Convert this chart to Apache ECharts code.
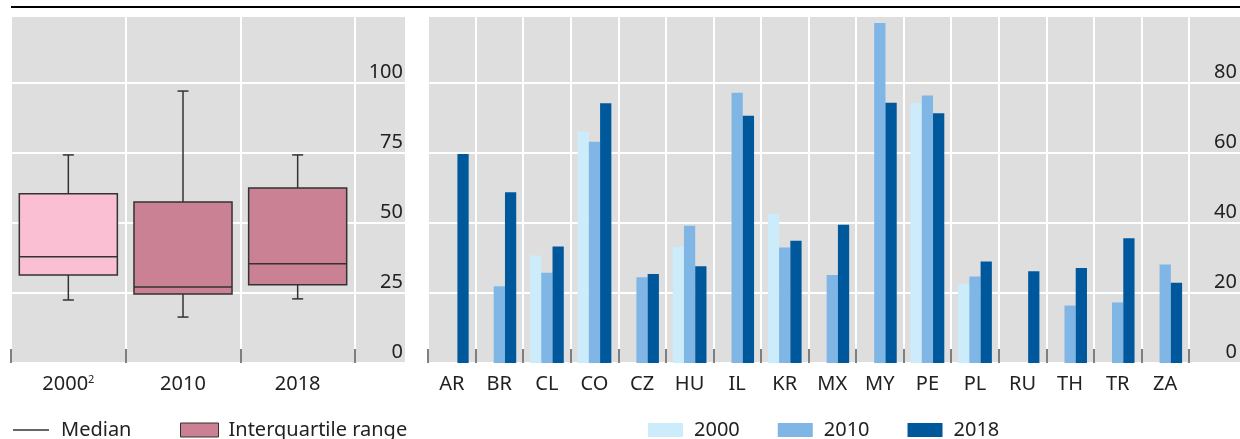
<!DOCTYPE html>
<html>
<head>
<meta charset="utf-8">
<script src="https://cdn.jsdelivr.net/npm/echarts@6/dist/echarts.min.js"></script>
<style>html,body{margin:0;padding:0;background:#fff}#c{width:1240px;height:439px}</style>
</head>
<body>
<div id="c"></div>
<script>
// ---- Data ----
const boxCategories = ['2000', '2010', '2018'];
const boxMin    = [22.5, 16.4, 22.9];
const boxQ1     = [31.4, 24.6, 27.9];
const boxMedian = [37.9, 27.1, 35.4];
const boxQ3     = [60.4, 57.5, 62.5];
const boxMax    = [74.3, 97.1, 74.3];
const leftTickStep = 25;

const countries = ['AR','BR','CL','CO','CZ','HU','IL','KR','MX','MY','PE','PL','RU','TH','TR','ZA'];
const v2000 = [null, null, 30.7, 66.1, null, 33.2, null, 42.6, null, null, 74.3, 22.6, null, null, null, null];
const v2010 = [null, 21.9, 25.8, 63.2, 24.5, 39.2, 77.2, 33.0, 25.1, 97.1, 76.4, 24.7, null, 16.4, 17.3, 28.1];
const v2018 = [59.7, 48.8, 33.3, 74.2, 25.4, 27.6, 70.6, 34.9, 39.5, 74.3, 71.3, 29.0, 26.2, 27.1, 35.6, 22.9];
const rightTickStep = 20;

// ---- Styles ----
const FONT = 'Noto Sans';
const TXT = '#222';
const BG = '#dedede';
const boxFill = ['#fbbfd3', '#c98193', '#c98193'];
const LEFT_MAX = 123.9, RIGHT_MAX = 99.1;

const chart = echarts.init(document.getElementById('c'));

const boxData = boxCategories.map((c, i) => [i, boxMin[i], boxQ1[i], boxMedian[i], boxQ3[i], boxMax[i]]);

function renderBox(params, api) {
  const i = api.value(0);
  const x = api.coord([i, 0])[0];
  const bw = api.size([1, 0])[0] * 0.855;
  const yLo = api.coord([i, api.value(1)])[1];
  const yQ1 = api.coord([i, api.value(2)])[1];
  const yMed = api.coord([i, api.value(3)])[1];
  const yQ3 = api.coord([i, api.value(4)])[1];
  const yHi = api.coord([i, api.value(5)])[1];
  const ls = { stroke: '#333', lineWidth: 1.5 };
  const cap = 5.5;
  return {
    type: 'group',
    children: [
      { type: 'line', shape: { x1: x, y1: yHi, x2: x, y2: yQ3 }, style: ls },
      { type: 'line', shape: { x1: x - cap, y1: yHi, x2: x + cap, y2: yHi }, style: ls },
      { type: 'line', shape: { x1: x, y1: yQ1, x2: x, y2: yLo }, style: ls },
      { type: 'line', shape: { x1: x - cap, y1: yLo, x2: x + cap, y2: yLo }, style: ls },
      { type: 'rect', shape: { x: x - bw / 2, y: yQ3, width: bw, height: yQ1 - yQ3 },
        style: { fill: boxFill[i], stroke: '#333', lineWidth: 1.5 } },
      { type: 'line', shape: { x1: x - bw / 2, y1: yMed, x2: x + bw / 2, y2: yMed }, style: ls }
    ]
  };
}

const tickStyle = { show: true, inside: true, interval: 0, length: 14, lineStyle: { color: '#555', width: 1.5 } };
const vSplit = { show: true, interval: 0, lineStyle: { color: '#fff', width: 2 } };
const catLabel = { interval: 0, fontFamily: FONT, fontSize: 20, color: TXT, margin: 11 };
const valLabel = { inside: true, verticalAlign: 'bottom', fontFamily: FONT, fontSize: 20, color: TXT, showMaxLabel: false, padding: [0, 0, 1, 0] };

const option = {
  animation: false,
  textStyle: { fontFamily: FONT },
  graphic: [
    { type: 'line', shape: { x1: 11, y1: 7, x2: 1240, y2: 7 }, style: { stroke: '#000', lineWidth: 2 } }
  ],
  grid: [
    { left: 11, top: 16, width: 394, height: 347, show: true, backgroundColor: BG, borderWidth: 0, outerBoundsMode: 'none' },
    { left: 11, top: 16, width: 344, height: 347, outerBoundsMode: 'none' },
    { left: 428, top: 16, width: 812, height: 347, show: true, backgroundColor: BG, borderWidth: 0, outerBoundsMode: 'none' },
    { left: 428, top: 16, width: 761, height: 347, outerBoundsMode: 'none' }
  ],
  xAxis: [
    { gridIndex: 0, type: 'category', data: [''], show: false },
    { gridIndex: 1, type: 'category', data: boxCategories, axisLine: { show: false }, axisTick: tickStyle, splitLine: vSplit,
      axisLabel: Object.assign({}, catLabel, {
        formatter: (v) => v === '2000' ? '{a|2000}{s|2}' : '{a|' + v + '}',
        rich: { a: { fontFamily: FONT, fontSize: 20, color: TXT }, s: { fontFamily: FONT, fontSize: 11, color: TXT, verticalAlign: 'top', padding: [0, 0, 10, 0] } }
      }) },
    { gridIndex: 2, type: 'category', data: [''], show: false },
    { gridIndex: 3, type: 'category', data: countries, axisLine: { show: false }, axisTick: tickStyle, splitLine: vSplit, axisLabel: catLabel }
  ],
  yAxis: [
    { gridIndex: 0, type: 'value', position: 'right', min: 0, max: LEFT_MAX, interval: leftTickStep,
      axisLine: { show: false }, axisTick: { show: false }, splitLine: { show: true, lineStyle: { color: '#fff', width: 2 } },
      axisLabel: Object.assign({}, valLabel, { margin: 2 }) },
    { gridIndex: 1, type: 'value', min: 0, max: LEFT_MAX, show: false, splitLine: { show: false } },
    { gridIndex: 2, type: 'value', position: 'right', min: 0, max: RIGHT_MAX, interval: rightTickStep,
      axisLine: { show: false }, axisTick: { show: false }, splitLine: { show: true, lineStyle: { color: '#fff', width: 2 } },
      axisLabel: Object.assign({}, valLabel, { margin: 3 }) },
    { gridIndex: 3, type: 'value', min: 0, max: RIGHT_MAX, show: false, splitLine: { show: false } }
  ],
  legend: [
    { left: 8, top: 415, itemWidth: 36, itemHeight: 1.5, icon: 'rect',
      textStyle: { fontFamily: FONT, fontSize: 20, color: TXT, padding: [0, 0, 0, 7] },
      data: [{ name: 'Median', itemStyle: { color: '#333', borderWidth: 0 } }] },
    { left: 175, top: 415, itemWidth: 38, itemHeight: 14, icon: 'rect',
      textStyle: { fontFamily: FONT, fontSize: 20, color: TXT, padding: [0, 0, 0, 5] },
      data: [{ name: 'Interquartile range', itemStyle: { color: '#c98193', borderColor: '#333', borderWidth: 1 } }] },
    { left: 643, top: 415, itemWidth: 35, itemHeight: 14, icon: 'rect', itemGap: 38,
      textStyle: { fontFamily: FONT, fontSize: 20, color: TXT, padding: [0, 0, 0, 6] },
      data: ['2000', '2010', '2018'] }
  ],
  series: [
    { name: 'IQR', type: 'custom', xAxisIndex: 1, yAxisIndex: 1, renderItem: renderBox, data: boxData,
      encode: { x: 0, y: [1, 2, 3, 4, 5] }, z: 3 },
    { name: 'Median', type: 'custom', xAxisIndex: 1, yAxisIndex: 1, renderItem: () => null, data: [], itemStyle: { color: '#333' } },
    { name: 'Interquartile range', type: 'custom', xAxisIndex: 1, yAxisIndex: 1, renderItem: () => null, data: [], itemStyle: { color: '#c98193' } },
    { name: '2000', type: 'bar', xAxisIndex: 3, yAxisIndex: 3, data: v2000, barGap: '0%', barCategoryGap: '29%', itemStyle: { color: '#cdecfb' } },
    { name: '2010', type: 'bar', xAxisIndex: 3, yAxisIndex: 3, data: v2010, barGap: '0%', barCategoryGap: '29%', itemStyle: { color: '#7fb6e6' } },
    { name: '2018', type: 'bar', xAxisIndex: 3, yAxisIndex: 3, data: v2018, barGap: '0%', barCategoryGap: '29%', itemStyle: { color: '#00589c' } }
  ]
};
chart.setOption(option);
</script>
</body>
</html>
